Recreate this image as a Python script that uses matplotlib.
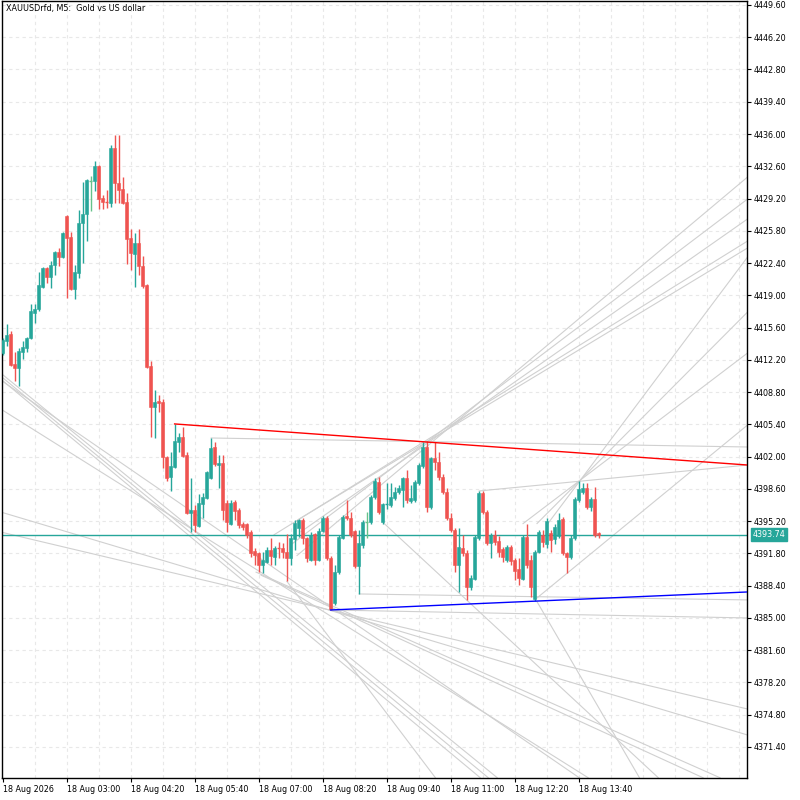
import matplotlib
matplotlib.use("Agg")
import matplotlib.pyplot as plt
from matplotlib.patches import Rectangle

# ---------------- data (XAUUSDrfd, M5, 150 bars from 18 Aug 01:40) ----------------
opens = [4412.92, 4414.18, 4414.92, 4411.76, 4411.34, 4413.03, 4413.45, 4414.50, 4417.13, 4417.56,
         4419.88, 4421.88, 4420.93, 4422.19, 4423.57, 4423.04, 4427.36, 4425.15, 4419.67, 4421.35,
         4426.62, 4427.57, 4431.05, 4431.05, 4432.63, 4429.26, 4428.84, 4428.73, 4434.53, 4430.84,
         4430.21, 4428.84, 4425.04, 4423.36, 4424.52, 4422.09, 4420.09, 4411.55, 4407.23, 4407.86,
         4407.76, 4401.96, 4399.85, 4400.90, 4403.54, 4404.07, 4402.17, 4396.06, 4396.37, 4394.68,
         4397.01, 4397.64, 4399.74, 4403.01, 4401.11, 4401.32, 4397.11, 4394.90, 4397.22, 4396.37,
         4394.90, 4394.90, 4394.05, 4392.05, 4391.84, 4390.58, 4390.89, 4392.16, 4391.42, 4392.37,
         4392.37, 4391.95, 4391.31, 4393.31, 4394.47, 4395.32, 4393.42, 4391.10, 4393.84, 4391.10,
         4394.16, 4395.53, 4391.31, 4386.57, 4389.84, 4393.42, 4395.74, 4395.53, 4394.16, 4390.47,
         4392.68, 4395.11, 4395.11, 4397.75, 4399.32, 4395.11, 4396.90, 4396.90, 4397.64, 4398.27,
         4398.48, 4399.74, 4397.32, 4397.43, 4399.22, 4401.01, 4403.01, 4396.69, 4401.85, 4401.43,
         4399.85, 4398.27, 4395.53, 4394.26, 4390.58, 4392.37, 4391.84, 4388.26, 4389.10, 4393.42,
         4398.16, 4396.16, 4392.89, 4393.73, 4393.10, 4392.26, 4391.10, 4392.47, 4391.10, 4390.15,
         4389.10, 4393.52, 4391.10, 4386.99, 4391.95, 4393.73, 4392.79, 4393.95, 4393.31, 4393.63,
         4395.42, 4391.84, 4391.42, 4393.42, 4397.43, 4398.27, 4398.69, 4396.69, 4397.54, 4393.95]
highs = [4414.50, 4415.98, 4415.23, 4413.03, 4413.45, 4414.18, 4414.61, 4418.09, 4418.09, 4421.46,
         4421.98, 4421.98, 4422.62, 4423.67, 4423.99, 4425.68, 4427.47, 4425.68, 4422.19, 4427.99,
         4430.95, 4431.26, 4431.58, 4433.16, 4432.74, 4429.58, 4430.10, 4434.85, 4435.90, 4435.90,
         4431.47, 4429.79, 4425.99, 4425.57, 4425.99, 4423.14, 4420.19, 4412.08, 4409.02, 4408.49,
         4408.07, 4402.07, 4402.49, 4405.44, 4404.49, 4405.12, 4402.49, 4399.74, 4396.90, 4398.06,
         4398.16, 4400.48, 4403.96, 4403.54, 4402.17, 4402.17, 4397.43, 4397.43, 4397.43, 4396.58,
         4395.11, 4395.00, 4394.26, 4392.37, 4391.95, 4391.95, 4392.47, 4393.42, 4392.58, 4393.00,
         4392.89, 4393.84, 4393.84, 4395.32, 4395.42, 4395.53, 4393.52, 4394.05, 4393.95, 4394.47,
         4395.74, 4395.74, 4391.53, 4390.58, 4393.73, 4395.84, 4397.43, 4396.16, 4394.26, 4394.26,
         4395.32, 4396.16, 4397.96, 4399.74, 4399.85, 4397.11, 4399.22, 4399.22, 4398.79, 4399.01,
         4399.85, 4400.59, 4399.01, 4399.53, 4401.32, 4403.54, 4403.64, 4401.96, 4403.54, 4402.49,
         4400.17, 4398.69, 4396.06, 4394.47, 4394.47, 4393.73, 4392.16, 4389.52, 4393.73, 4398.37,
         4398.37, 4396.37, 4393.95, 4394.26, 4393.63, 4392.47, 4392.68, 4392.68, 4391.31, 4391.31,
         4393.73, 4394.90, 4391.63, 4392.16, 4394.26, 4394.26, 4395.53, 4394.26, 4394.90, 4396.06,
         4395.63, 4391.95, 4393.73, 4397.75, 4399.43, 4399.22, 4399.22, 4397.75, 4398.79, 4394.05]
lows = [4412.71, 4413.66, 4411.55, 4409.96, 4409.44, 4412.29, 4413.03, 4414.40, 4416.08, 4417.34,
        4419.77, 4420.30, 4419.77, 4421.14, 4422.09, 4422.94, 4418.72, 4419.56, 4418.62, 4420.82,
        4422.41, 4424.72, 4427.89, 4430.00, 4428.10, 4428.10, 4428.21, 4428.31, 4428.73, 4428.73,
        4428.63, 4422.30, 4421.67, 4419.88, 4421.14, 4419.77, 4411.34, 4404.07, 4403.96, 4406.70,
        4400.80, 4399.43, 4398.37, 4400.80, 4402.49, 4401.96, 4395.95, 4394.05, 4394.05, 4394.58,
        4395.53, 4397.54, 4399.64, 4401.01, 4398.69, 4395.32, 4394.05, 4394.79, 4395.32, 4394.47,
        4394.26, 4393.42, 4391.42, 4390.58, 4389.84, 4389.73, 4390.78, 4390.58, 4390.58, 4391.31,
        4391.31, 4388.89, 4390.58, 4392.16, 4393.52, 4392.79, 4390.89, 4391.00, 4390.58, 4391.00,
        4394.05, 4391.10, 4385.83, 4386.36, 4389.63, 4393.31, 4395.32, 4393.52, 4390.26, 4387.52,
        4392.37, 4393.42, 4394.90, 4397.54, 4395.95, 4394.90, 4396.48, 4396.69, 4397.43, 4398.06,
        4396.69, 4397.11, 4397.11, 4397.22, 4399.01, 4400.80, 4396.16, 4396.48, 4400.59, 4399.53,
        4398.06, 4395.32, 4394.05, 4389.84, 4387.73, 4391.53, 4386.89, 4387.94, 4388.99, 4393.21,
        4395.95, 4392.68, 4391.31, 4392.68, 4391.42, 4390.89, 4390.89, 4390.58, 4388.99, 4388.47,
        4388.99, 4390.26, 4387.20, 4386.78, 4391.84, 4392.47, 4392.37, 4391.95, 4392.79, 4393.42,
        4391.63, 4389.73, 4391.21, 4393.21, 4397.22, 4398.06, 4396.48, 4396.27, 4393.52, 4393.42]
closes = [4414.29, 4414.81, 4411.65, 4411.34, 4413.13, 4413.55, 4414.50, 4417.34, 4417.56, 4420.09,
          4421.88, 4420.93, 4422.19, 4423.57, 4423.04, 4425.57, 4425.04, 4419.67, 4421.46, 4426.62,
          4427.57, 4431.16, 4431.05, 4432.63, 4429.15, 4428.84, 4428.73, 4434.53, 4430.84, 4430.10,
          4428.73, 4424.94, 4423.46, 4424.52, 4422.09, 4419.98, 4411.44, 4407.23, 4407.76, 4407.65,
          4401.96, 4399.74, 4401.01, 4403.64, 4404.07, 4402.07, 4396.06, 4396.37, 4394.79, 4397.11,
          4397.75, 4400.38, 4402.91, 4401.22, 4401.32, 4396.37, 4395.11, 4397.11, 4396.27, 4394.79,
          4394.58, 4393.73, 4391.84, 4391.63, 4390.58, 4391.10, 4392.16, 4391.53, 4392.37, 4392.26,
          4391.95, 4391.31, 4393.42, 4395.00, 4395.32, 4393.42, 4391.31, 4393.73, 4391.10, 4394.16,
          4395.53, 4391.31, 4385.94, 4389.84, 4393.52, 4395.63, 4395.53, 4393.73, 4390.47, 4392.89,
          4395.11, 4395.11, 4397.75, 4399.43, 4396.16, 4397.01, 4397.01, 4397.75, 4398.27, 4398.69,
          4399.74, 4397.43, 4397.64, 4399.32, 4401.11, 4403.01, 4396.69, 4401.85, 4401.43, 4399.85,
          4398.27, 4395.53, 4394.26, 4390.58, 4392.47, 4391.84, 4388.26, 4389.21, 4393.52, 4398.16,
          4396.16, 4392.89, 4393.73, 4393.00, 4391.95, 4391.42, 4392.47, 4391.00, 4389.94, 4389.21,
          4393.52, 4390.58, 4388.26, 4391.95, 4394.05, 4393.00, 4395.21, 4393.21, 4394.58, 4395.32,
          4391.84, 4391.42, 4393.42, 4397.54, 4398.58, 4398.69, 4396.69, 4397.54, 4393.73, 4393.74]

current_price = 4393.74

price_ticks = [4449.60, 4446.20, 4442.80, 4439.40, 4436.00, 4432.60, 4429.20, 4425.80, 4422.40,
               4419.00, 4415.60, 4412.20, 4408.80, 4405.40, 4402.00, 4398.60, 4395.20, 4391.80,
               4388.40, 4385.00, 4381.60, 4378.20, 4374.80, 4371.40]
time_tick_bars = [0, 16, 32, 48, 64, 80, 96, 112, 128, 144]
time_tick_labels = ["18 Aug 2026", "18 Aug 03:00", "18 Aug 04:20", "18 Aug 05:40", "18 Aug 07:00",
                    "18 Aug 08:20", "18 Aug 09:40", "18 Aug 11:00", "18 Aug 12:20", "18 Aug 13:40"]

# trend lines: (bar0, price0, bar1, price1)
red_line = (43, 4405.44, 186.25, 4401.11)
blue_line = (82, 4385.83, 186.25, 4387.73)
grey_x0 = [52, 119, 89, 82, -0.5, -0.5, -0.5, -0.5, -0.5, -0.5, -0.5, 64.5, 63.25, 71, 95.25, 133.5,
           73.75, 67.75, 74.5, 72, 73.5, 133, 130, 133.5, 136.25]
grey_p0 = [4403.96, 4398.37, 4387.52, 4385.83, 4410.81, 4410.49, 4410.18, 4410.07, 4407.02, 4396.16,
           4394.05, 4389.52, 4389.84, 4388.89, 4395.00, 4386.78,
           4395.32, 4393.73, 4394.05, 4392.68, 4391.53, 4386.89, 4394.90, 4394.90, 4394.90]
grey_x1 = [186.25, 186.25, 186.25, 186.25, 123.75, 121.5, 119.5, 144.25, 146.5, 186.25, 186.25, 175.25,
           179.5, 108.25, 164, 159.25, 186.25, 186.25, 186.25, 186.25, 186.25, 186.25, 186.25, 186.25,
           186.25]
grey_p1 = [4403.01, 4401.11, 4386.89, 4384.99, 4368.12, 4368.12, 4368.12, 4368.12, 4368.12, 4372.65,
           4375.39, 4368.12, 4368.12, 4368.12, 4368.12, 4368.12,
           4423.99, 4424.72, 4427.05, 4429.15, 4431.47, 4405.33, 4412.92, 4417.24, 4423.04]

# ---------------- styling ----------------
BULL = "#26a69a"
BEAR = "#ef5350"
DOJI = "#66c28a"
GRID = "#e8e8e8"
LINE_GREY = "#d0d0d0"
W, H = 800, 800

fig = plt.figure(figsize=(8, 8), dpi=100, facecolor="white")
ax = fig.add_axes([2 / W, 1 - 778 / H, (747 - 2) / W, (778 - 1) / H])
ax.set_facecolor("white")

ax.set_xlim(-0.15, 186.1)
ax.set_ylim(4368.12, 4450.02)

# grid
for p in price_ticks:
    ax.axhline(p, color=GRID, lw=0.8, dashes=(3, 3), zorder=0)
for b in range(8, 187, 8):
    ax.axvline(b, color=GRID, lw=0.8, dashes=(3, 3), zorder=0)

# grey trend lines
for x0, p0, x1, p1 in zip(grey_x0, grey_p0, grey_x1, grey_p1):
    ax.plot([x0, x1], [p0, p1], color=LINE_GREY, lw=0.8, zorder=1, solid_capstyle="butt")

# red / blue trend lines
ax.plot([red_line[0], red_line[2]], [red_line[1], red_line[3]], color="#ff0000", lw=1.0, zorder=4)
ax.plot([blue_line[0], blue_line[2]], [blue_line[1], blue_line[3]], color="#0000ff", lw=1.0, zorder=4)

# current price line
ax.axhline(current_price, color=BULL, lw=1.0, zorder=2)

# candles
body_w = 0.75
for i, (o, h, l, c) in enumerate(zip(opens, highs, lows, closes)):
    if c > o:
        col = BULL
    elif c < o:
        col = BEAR
    else:
        col = DOJI
    ax.vlines(i, l, h, color=col, lw=1.0, zorder=3)
    lo, hi = min(o, c), max(o, c)
    if hi - lo < 0.12:
        ax.hlines((o + c) / 2, i - body_w / 2, i + body_w / 2, color=col, lw=1.0, zorder=3)
    else:
        ax.add_patch(Rectangle((i - body_w / 2, lo), body_w, hi - lo, facecolor=col,
                               edgecolor=col, lw=0.4, zorder=3))

# axes / ticks
for s in ax.spines.values():
    s.set_color("black")
    s.set_linewidth(1.0)

ax.yaxis.tick_right()
ax.set_yticks(price_ticks)
ax.set_yticklabels([f"{p:.2f}" for p in price_ticks])
ax.tick_params(axis="y", which="both", length=3, width=0.8, pad=2, labelsize=5.8, colors="black")
ax.set_xticks(time_tick_bars)
ax.set_xticklabels(time_tick_labels)
ax.tick_params(axis="x", which="both", length=3, width=0.8, pad=2, labelsize=5.8, colors="black")
for lab in ax.get_xticklabels():
    lab.set_horizontalalignment("left")

# current price label on the axis
ax.annotate(f"{current_price:.2f}", xy=(1.0, current_price), xycoords=("axes fraction", "data"),
            xytext=(4, 0), textcoords="offset points", ha="left", va="center",
            fontsize=5.8, color="white",
            bbox=dict(boxstyle="square,pad=0.25", fc=BULL, ec=BULL), zorder=10,
            annotation_clip=False)

# title
fig.text(6 / W, 1 - 9 / H, "XAUUSDrfd, M5:  Gold vs US dollar", fontsize=5.8, color="black",
         ha="left", va="center")

fig.savefig("out.png", dpi=100, facecolor="white")
